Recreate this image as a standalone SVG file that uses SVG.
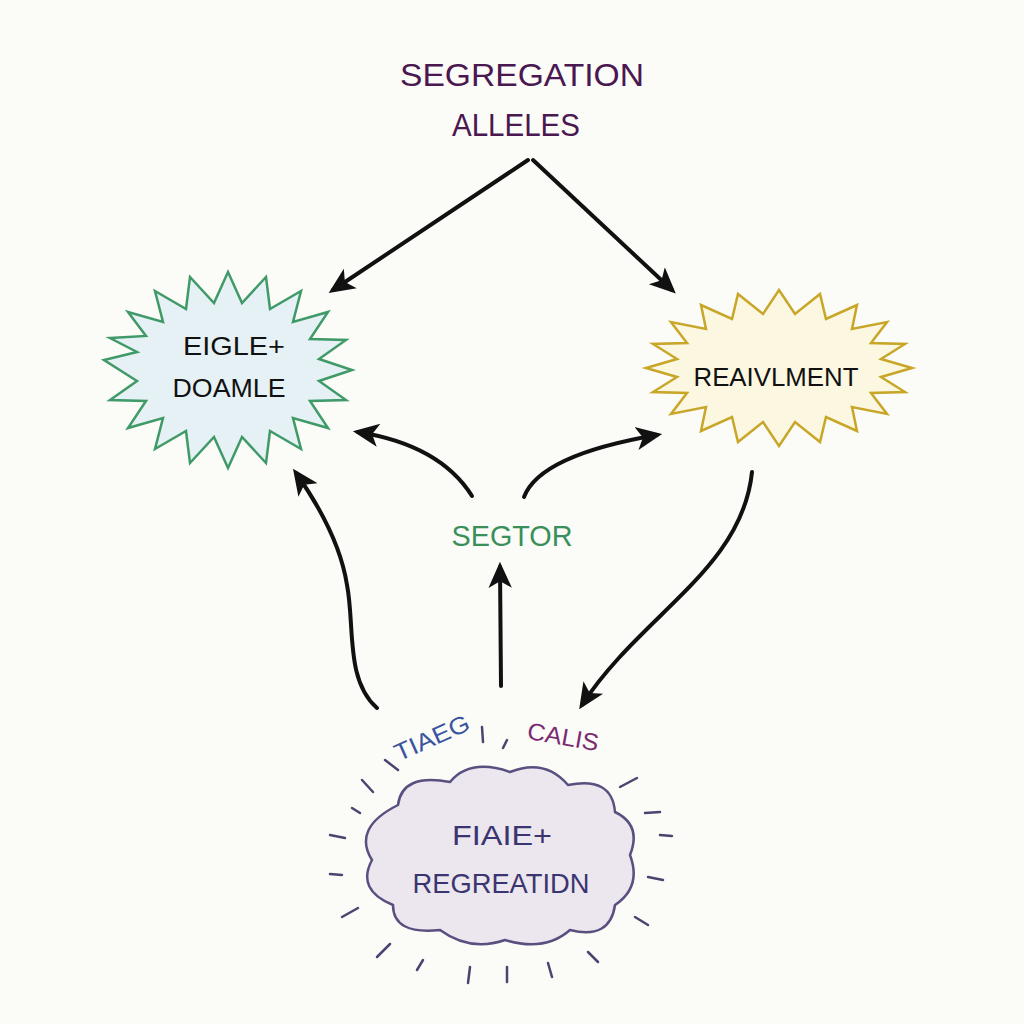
<svg xmlns="http://www.w3.org/2000/svg" width="1024" height="1024" viewBox="0 0 1024 1024">
<style>
.t{font-family:"Liberation Sans","DejaVu Sans",sans-serif;text-anchor:middle}
.c{fill:none;stroke:#111;stroke-width:4;stroke-linecap:round;stroke-linejoin:round}
.ray{stroke:#4a4570;stroke-width:2.5;stroke-linecap:round}
</style>
<defs>
<marker id="ah" viewBox="0 0 20 20" refX="16" refY="10" markerWidth="26" markerHeight="26" markerUnits="userSpaceOnUse" orient="auto">
<path d="M0,1 L20,10 L0,19 L5,10 Z" fill="#111"/>
</marker>
</defs>
<rect width="1024" height="1024" fill="#fbfbf7"/>

<g id="title">
<text class="t" x="522" y="86" font-size="31" fill="#4a1750" textLength="244" lengthAdjust="spacingAndGlyphs">SEGREGATION</text>
<text class="t" x="516" y="136" font-size="31" fill="#4a1750" textLength="128" lengthAdjust="spacingAndGlyphs">ALLELES</text>
</g>

<g id="node-eigle">
<polygon points="352,370 319,381 346,400 310,401 328,428 293,418 301,449 270,431 266,463 242,437 228,468 214,437 190,463 186,431 155,449 163,418 128,428 146,401 110,400 137,381 104,360 137,352 110,338 146,336 128,312 163,322 155,291 186,309 190,277 214,303 228,272 242,303 266,277 270,309 301,291 293,322 328,312 310,339 346,340 319,359" fill="#e6f1f5" stroke="#3f9a68" stroke-width="2.5" stroke-linejoin="miter"/>
<text class="t" x="234" y="355" font-size="26" fill="#111" textLength="102" lengthAdjust="spacingAndGlyphs">EIGLE+</text>
<text class="t" x="229" y="397" font-size="26" fill="#111" textLength="113" lengthAdjust="spacingAndGlyphs">DOAMLE</text>
</g>

<g id="node-reaivlment">
<polygon points="912,368 881,377 905,392 871,393 887,414 852,407 857,431 826,417 820,442 795,422 779,446 763,422 738,442 732,417 701,431 706,407 671,414 687,393 653,392 677,377 646,368 677,359 653,344 687,343 671,322 706,329 701,305 732,319 738,294 763,314 779,290 795,314 820,294 826,319 857,305 852,329 887,322 871,343 905,344 881,359" fill="#fbf7e0" stroke="#c8a628" stroke-width="2.5"/>
<text class="t" x="776" y="386" font-size="26" fill="#111" textLength="165" lengthAdjust="spacingAndGlyphs">REAIVLMENT</text>
</g>

<g id="node-segtor">
<text class="t" x="512" y="546" font-size="30" fill="#3a8f5a" textLength="121" lengthAdjust="spacingAndGlyphs">SEGTOR</text>
</g>

<g id="node-cloud">
<path d="M398,805 Q402,773 450,782 Q470,758 510,772 Q545,758 568,785 Q612,776 615,812 Q642,825 630,855 Q642,887 615,905 Q610,940 570,930 Q545,952 505,940 Q470,952 440,930 Q393,935 393,905 Q356,890 372,860 Q352,828 398,805 Z" fill="#ece6ee" stroke="#5a5080" stroke-width="2.5"/>
<text class="t" x="502" y="845" font-size="28" fill="#3a3570" textLength="100" lengthAdjust="spacingAndGlyphs">FIAIE+</text>
<text class="t" x="501" y="893" font-size="28" fill="#3a3570" textLength="177" lengthAdjust="spacingAndGlyphs">REGREATIDN</text>
<g>
<line class="ray" x1="385" y1="760" x2="398" y2="770"/>
<line class="ray" x1="362" y1="780" x2="373" y2="792"/>
<line class="ray" x1="352" y1="808" x2="360" y2="813"/>
<line class="ray" x1="330" y1="835" x2="345" y2="838"/>
<line class="ray" x1="330" y1="874" x2="342" y2="875"/>
<line class="ray" x1="342" y1="917" x2="358" y2="908"/>
<line class="ray" x1="377" y1="957" x2="390" y2="944"/>
<line class="ray" x1="417" y1="970" x2="423" y2="960"/>
<line class="ray" x1="468" y1="983" x2="470" y2="967"/>
<line class="ray" x1="507" y1="982" x2="507" y2="967"/>
<line class="ray" x1="552" y1="977" x2="548" y2="963"/>
<line class="ray" x1="598" y1="962" x2="588" y2="952"/>
<line class="ray" x1="635" y1="917" x2="648" y2="925"/>
<line class="ray" x1="648" y1="877" x2="663" y2="880"/>
<line class="ray" x1="660" y1="835" x2="672" y2="836"/>
<line class="ray" x1="645" y1="813" x2="660" y2="812"/>
<line class="ray" x1="620" y1="787" x2="637" y2="778"/>
<line class="ray" x1="482" y1="727" x2="483" y2="742"/>
<line class="ray" x1="503" y1="748" x2="507" y2="740"/>
</g>
</g>

<g id="label-tiaeg">
<text class="t" x="432" y="746" font-size="24" fill="#3a55a0" transform="rotate(-24 432 738)" textLength="80" lengthAdjust="spacingAndGlyphs">TIAEG</text>
</g>
<g id="label-calis">
<text class="t" x="563" y="745" font-size="24" fill="#7a2a70" transform="rotate(10 563 738)" textLength="72" lengthAdjust="spacingAndGlyphs">CALIS</text>
</g>

<g id="connectors">
<path class="c" d="M528,160 L333,290" marker-end="url(#ah)"/>
<path class="c" d="M533,160 L672,290" marker-end="url(#ah)"/>
<path class="c" d="M472,496 Q440,445 358,432" marker-end="url(#ah)"/>
<path class="c" d="M524,497 Q540,455 657,435" marker-end="url(#ah)"/>
<path class="c" d="M501,686 L500,567" marker-end="url(#ah)"/>
<path class="c" d="M377,708 C345,680 355,625 347,585 C340,540 315,500 296,473" marker-end="url(#ah)"/>
<path class="c" d="M752,472 C742,570 640,615 582,705" marker-end="url(#ah)"/>
</g>
</svg>
